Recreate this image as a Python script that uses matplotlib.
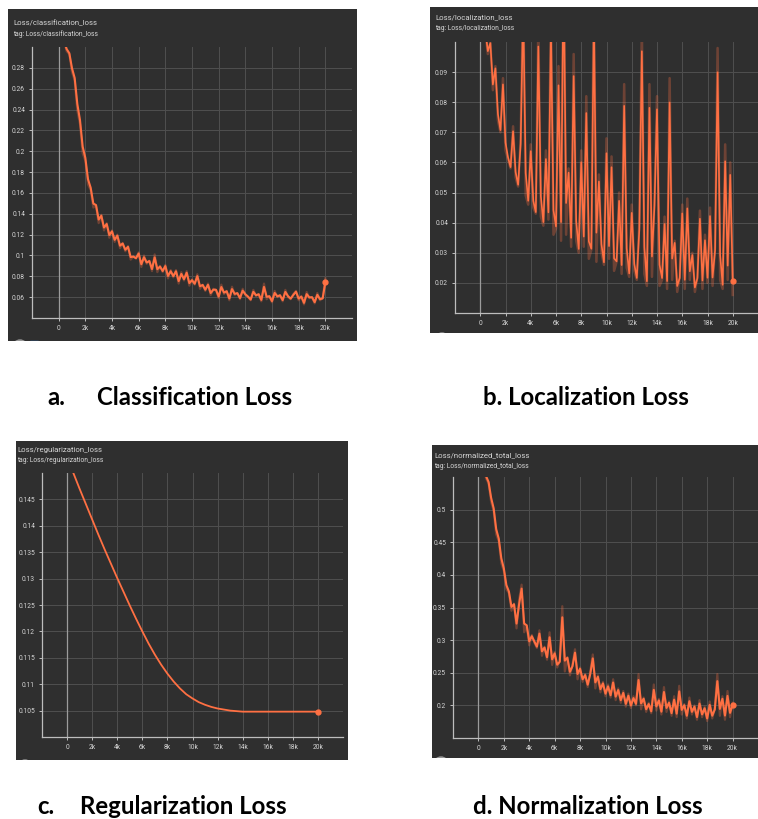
import numpy as np
import matplotlib
matplotlib.use("Agg")
import matplotlib.pyplot as plt
from matplotlib.patches import Circle, Rectangle

W, H = 758, 819
fig = plt.figure(figsize=(W / 100, H / 100), dpi=100)
fig.patch.set_facecolor("white")

# ---------------- data ----------------
steps = np.arange(400, 20001, 200)

cls_raw = [
    0.306, 0.296, 0.293, 0.276, 0.268, 0.239, 0.226, 0.198, 0.191, 0.168,
    0.163, 0.146, 0.148, 0.131, 0.139, 0.124, 0.131, 0.117, 0.124, 0.113,
    0.120, 0.107, 0.112, 0.104, 0.109, 0.096, 0.099, 0.097, 0.103, 0.089,
    0.100, 0.092, 0.095, 0.085, 0.101, 0.084, 0.090, 0.084, 0.091, 0.078,
    0.086, 0.079, 0.086, 0.073, 0.084, 0.076, 0.085, 0.071, 0.077, 0.072,
    0.082, 0.068, 0.072, 0.066, 0.073, 0.062, 0.068, 0.067, 0.059, 0.072,
    0.063, 0.066, 0.057, 0.070, 0.062, 0.064, 0.058, 0.068, 0.062, 0.060,
    0.057, 0.067, 0.061, 0.063, 0.056, 0.073, 0.058, 0.061, 0.055, 0.066,
    0.060, 0.062, 0.056, 0.067, 0.060, 0.058, 0.063, 0.066, 0.057, 0.061,
    0.053, 0.065, 0.059, 0.060, 0.054, 0.064, 0.057, 0.059, 0.078]

loc_raw = [
    0.104, 0.096, 0.100, 0.084, 0.092, 0.074, 0.070, 0.088, 0.064, 0.061,
    0.058, 0.072, 0.055, 0.052, 0.068, 0.118, 0.049, 0.046, 0.066, 0.045,
    0.043, 0.106, 0.042, 0.039, 0.064, 0.041, 0.112, 0.036, 0.038, 0.092,
    0.034, 0.135, 0.036, 0.058, 0.032, 0.096, 0.034, 0.030, 0.064, 0.032,
    0.082, 0.028, 0.031, 0.118, 0.027, 0.056, 0.030, 0.026, 0.068, 0.028,
    0.062, 0.024, 0.027, 0.050, 0.023, 0.086, 0.025, 0.022, 0.046, 0.024,
    0.021, 0.040, 0.105, 0.023, 0.019, 0.086, 0.022, 0.048, 0.082, 0.019,
    0.021, 0.042, 0.018, 0.088, 0.021, 0.034, 0.017, 0.022, 0.046, 0.018,
    0.048, 0.021, 0.030, 0.017, 0.022, 0.044, 0.018, 0.036, 0.020, 0.045,
    0.019, 0.032, 0.098, 0.021, 0.018, 0.066, 0.021, 0.060, 0.016]

tot_raw = [
    0.565, 0.548, 0.540, 0.512, 0.498, 0.462, 0.452, 0.418, 0.406, 0.378,
    0.372, 0.345, 0.356, 0.318, 0.362, 0.385, 0.312, 0.322, 0.292, 0.308,
    0.296, 0.288, 0.315, 0.276, 0.290, 0.270, 0.312, 0.262, 0.282, 0.258,
    0.268, 0.352, 0.252, 0.274, 0.246, 0.262, 0.286, 0.240, 0.258, 0.236,
    0.248, 0.228, 0.252, 0.278, 0.226, 0.246, 0.220, 0.236, 0.214, 0.232,
    0.212, 0.240, 0.208, 0.226, 0.204, 0.222, 0.198, 0.218, 0.196, 0.214,
    0.200, 0.248, 0.194, 0.212, 0.190, 0.204, 0.188, 0.232, 0.192, 0.210,
    0.186, 0.228, 0.190, 0.206, 0.184, 0.214, 0.182, 0.230, 0.186, 0.202,
    0.180, 0.212, 0.186, 0.200, 0.178, 0.208, 0.182, 0.198, 0.176, 0.206,
    0.180, 0.196, 0.248, 0.184, 0.214, 0.178, 0.222, 0.182, 0.204]

reg_steps = np.arange(500, 20001, 500)
reg_vals = [
    0.1500, 0.1470, 0.1441, 0.1412, 0.1383, 0.1355, 0.1328, 0.1301, 0.1275, 0.1249,
    0.1224, 0.1200, 0.1177, 0.1156, 0.1137, 0.1120, 0.1105, 0.1092, 0.1081, 0.1073,
    0.1066, 0.1061, 0.1057, 0.1054, 0.1052, 0.1050, 0.1049, 0.1048, 0.1048, 0.1048,
    0.1048, 0.1048, 0.1048, 0.1048, 0.1048, 0.1048, 0.1048, 0.1048, 0.1048, 0.1048]

x_ticks = [0, 2000, 4000, 6000, 8000, 10000, 12000, 14000, 16000, 18000, 20000]
x_labels = ["0", "2k", "4k", "6k", "8k", "10k", "12k", "14k", "16k", "18k", "20k"]

cls_yticks = [0.06, 0.08, 0.10, 0.12, 0.14, 0.16, 0.18, 0.20, 0.22, 0.24, 0.26, 0.28]
cls_ylabels = ["0.06", "0.08", "0.1", "0.12", "0.14", "0.16", "0.18", "0.2", "0.22", "0.24", "0.26", "0.28"]
loc_yticks = [0.02, 0.03, 0.04, 0.05, 0.06, 0.07, 0.08, 0.09]
loc_ylabels = ["0.02", "0.03", "0.04", "0.05", "0.06", "0.07", "0.08", "0.09"]
reg_yticks = [0.105, 0.110, 0.115, 0.120, 0.125, 0.130, 0.135, 0.140, 0.145]
reg_ylabels = ["0.105", "0.11", "0.115", "0.12", "0.125", "0.13", "0.135", "0.14", "0.145"]
tot_yticks = [0.20, 0.25, 0.30, 0.35, 0.40, 0.45, 0.50]
tot_ylabels = ["0.2", "0.25", "0.3", "0.35", "0.4", "0.45", "0.5"]

captions = [("a.", "Classification Loss"), ("b.", "Localization Loss"),
            ("c.", "Regularization Loss"), ("d.", "Normalization Loss")]

# ---------------- style ----------------
BG = "#2f2f2f"
GRID = "#4f4f4f"
AXC = "#bdbdbd"
TXT = "#d6d6d6"
ORANGE = "#ff7043"
SMALL = ["Liberation Sans Narrow", "Roboto", "DejaVu Sans"]


def frac(l, t, r, b):
    return [l / W, 1 - b / H, (r - l) / W, (b - t) / H]


def ema(vals, w):
    out, last = [], vals[0]
    for v in vals:
        last = last * w + (1 - w) * v
        out.append(last)
    return out


def panel(bg_box, plot_box, title, ylim, yticks, ylabels, title_xy, circle_xy, blue=0):
    bg = fig.add_axes(frac(*bg_box))
    bg.set_facecolor(BG)
    bg.set_xlim(bg_box[0], bg_box[2])
    bg.set_ylim(bg_box[3], bg_box[1])
    bg.set_xticks([]); bg.set_yticks([])
    for s in bg.spines.values():
        s.set_visible(False)
    bg.text(title_xy[0], title_xy[1], title, color=TXT, fontsize=5.6, family=SMALL,
            va="center", ha="left")
    bg.text(title_xy[0], title_xy[1] + 11, "tag: " + title, color=TXT, fontsize=4.9,
            family=SMALL, va="center", ha="left")
    bg.add_patch(Circle(circle_xy, 7, color="#9a9a9a", clip_on=True))
    for i in range(blue):
        bg.add_patch(Rectangle((circle_xy[0] + 10 + 12 * i, circle_xy[1] - 6), 8, 8,
                               color="#2f7fd8", clip_on=True))

    ax = fig.add_axes(frac(*plot_box))
    ax.patch.set_alpha(0)
    ax.set_xlim(-2000, 22000)
    ax.set_ylim(*ylim)
    ax.set_xticks(x_ticks)
    ax.set_xticklabels(x_labels, family=SMALL)
    ax.set_yticks(yticks)
    ax.set_yticklabels(ylabels, family=SMALL)
    ax.tick_params(colors=TXT, labelsize=4.8, length=2, width=0.6, pad=3)
    ax.grid(True, color=GRID, lw=0.7)
    ax.set_axisbelow(True)
    for k in ("top", "right"):
        ax.spines[k].set_visible(False)
    for k in ("left", "bottom"):
        ax.spines[k].set_color(AXC)
        ax.spines[k].set_linewidth(0.9)
    ax.axvline(0, color="#9c9c9c", lw=0.9, zorder=1)
    return ax


# a. classification
ax = panel((8, 9, 357, 341), (32, 47, 352, 318), "Loss/classification_loss",
           (0.04, 0.30), cls_yticks, cls_ylabels, (13, 23), (20, 347), blue=1)
sm = ema(cls_raw, 0.2)
ax.plot(steps, cls_raw, color=ORANGE, alpha=0.3, lw=1.6, zorder=3)
ax.plot(steps, sm, color=ORANGE, lw=1.5, zorder=4)
ax.plot(steps[-1], sm[-1], "o", color=ORANGE, ms=3.5, zorder=5)

# b. localization
ax = panel((430, 7, 758, 333), (455, 42, 758, 313), "Loss/localization_loss",
           (0.01, 0.10), loc_yticks, loc_ylabels, (435, 17), (442, 340))
sm = ema(loc_raw, 0.12)
ax.plot(steps, loc_raw, color=ORANGE, alpha=0.3, lw=1.8, zorder=3)
ax.plot(steps, sm, color=ORANGE, lw=1.2, zorder=4)
ax.plot(steps[-1], sm[-1], "o", color=ORANGE, ms=3.5, zorder=5)

# c. regularization
ax = panel((16, 441, 348, 760), (42, 473, 343, 737), "Loss/regularization_loss",
           (0.100, 0.150), reg_yticks, reg_ylabels, (17, 450), (25, 767), blue=2)
ax.plot(reg_steps, reg_vals, color=ORANGE, lw=1.3, zorder=4)
ax.plot(reg_steps[-1], reg_vals[-1], "o", color=ORANGE, ms=3.5, zorder=5)

# d. normalized total
ax = panel((432, 445, 758, 758), (453, 477, 758, 738), "Loss/normalized_total_loss",
           (0.15, 0.55), tot_yticks, tot_ylabels, (434, 455), (441, 764))
sm = ema(tot_raw, 0.2)
ax.plot(steps, tot_raw, color=ORANGE, alpha=0.3, lw=1.6, zorder=3)
ax.plot(steps, sm, color=ORANGE, lw=1.5, zorder=4)
ax.plot(steps[-1], sm[-1], "o", color=ORANGE, ms=3.5, zorder=5)

# captions
CAP = ["Lato", "DejaVu Sans"]
FS = 17.3
cap_pos = [((47, 97), 397), ((483, None), 397), ((37, 80), 807), ((473, None), 807)]
for (lbl, name), ((xl, xn), yc) in zip(captions, cap_pos):
    if xn is None:
        fig.text(xl / W, 1 - yc / H, lbl + " " + name, fontsize=FS, fontweight="bold",
                 family=CAP, va="center", ha="left", color="black")
    else:
        fig.text(xl / W, 1 - yc / H, lbl, fontsize=FS, fontweight="bold",
                 family=CAP, va="center", ha="left", color="black")
        fig.text(xn / W, 1 - yc / H, name, fontsize=FS, fontweight="bold",
                 family=CAP, va="center", ha="left", color="black")

fig.savefig("out.png", dpi=100, facecolor="white")
